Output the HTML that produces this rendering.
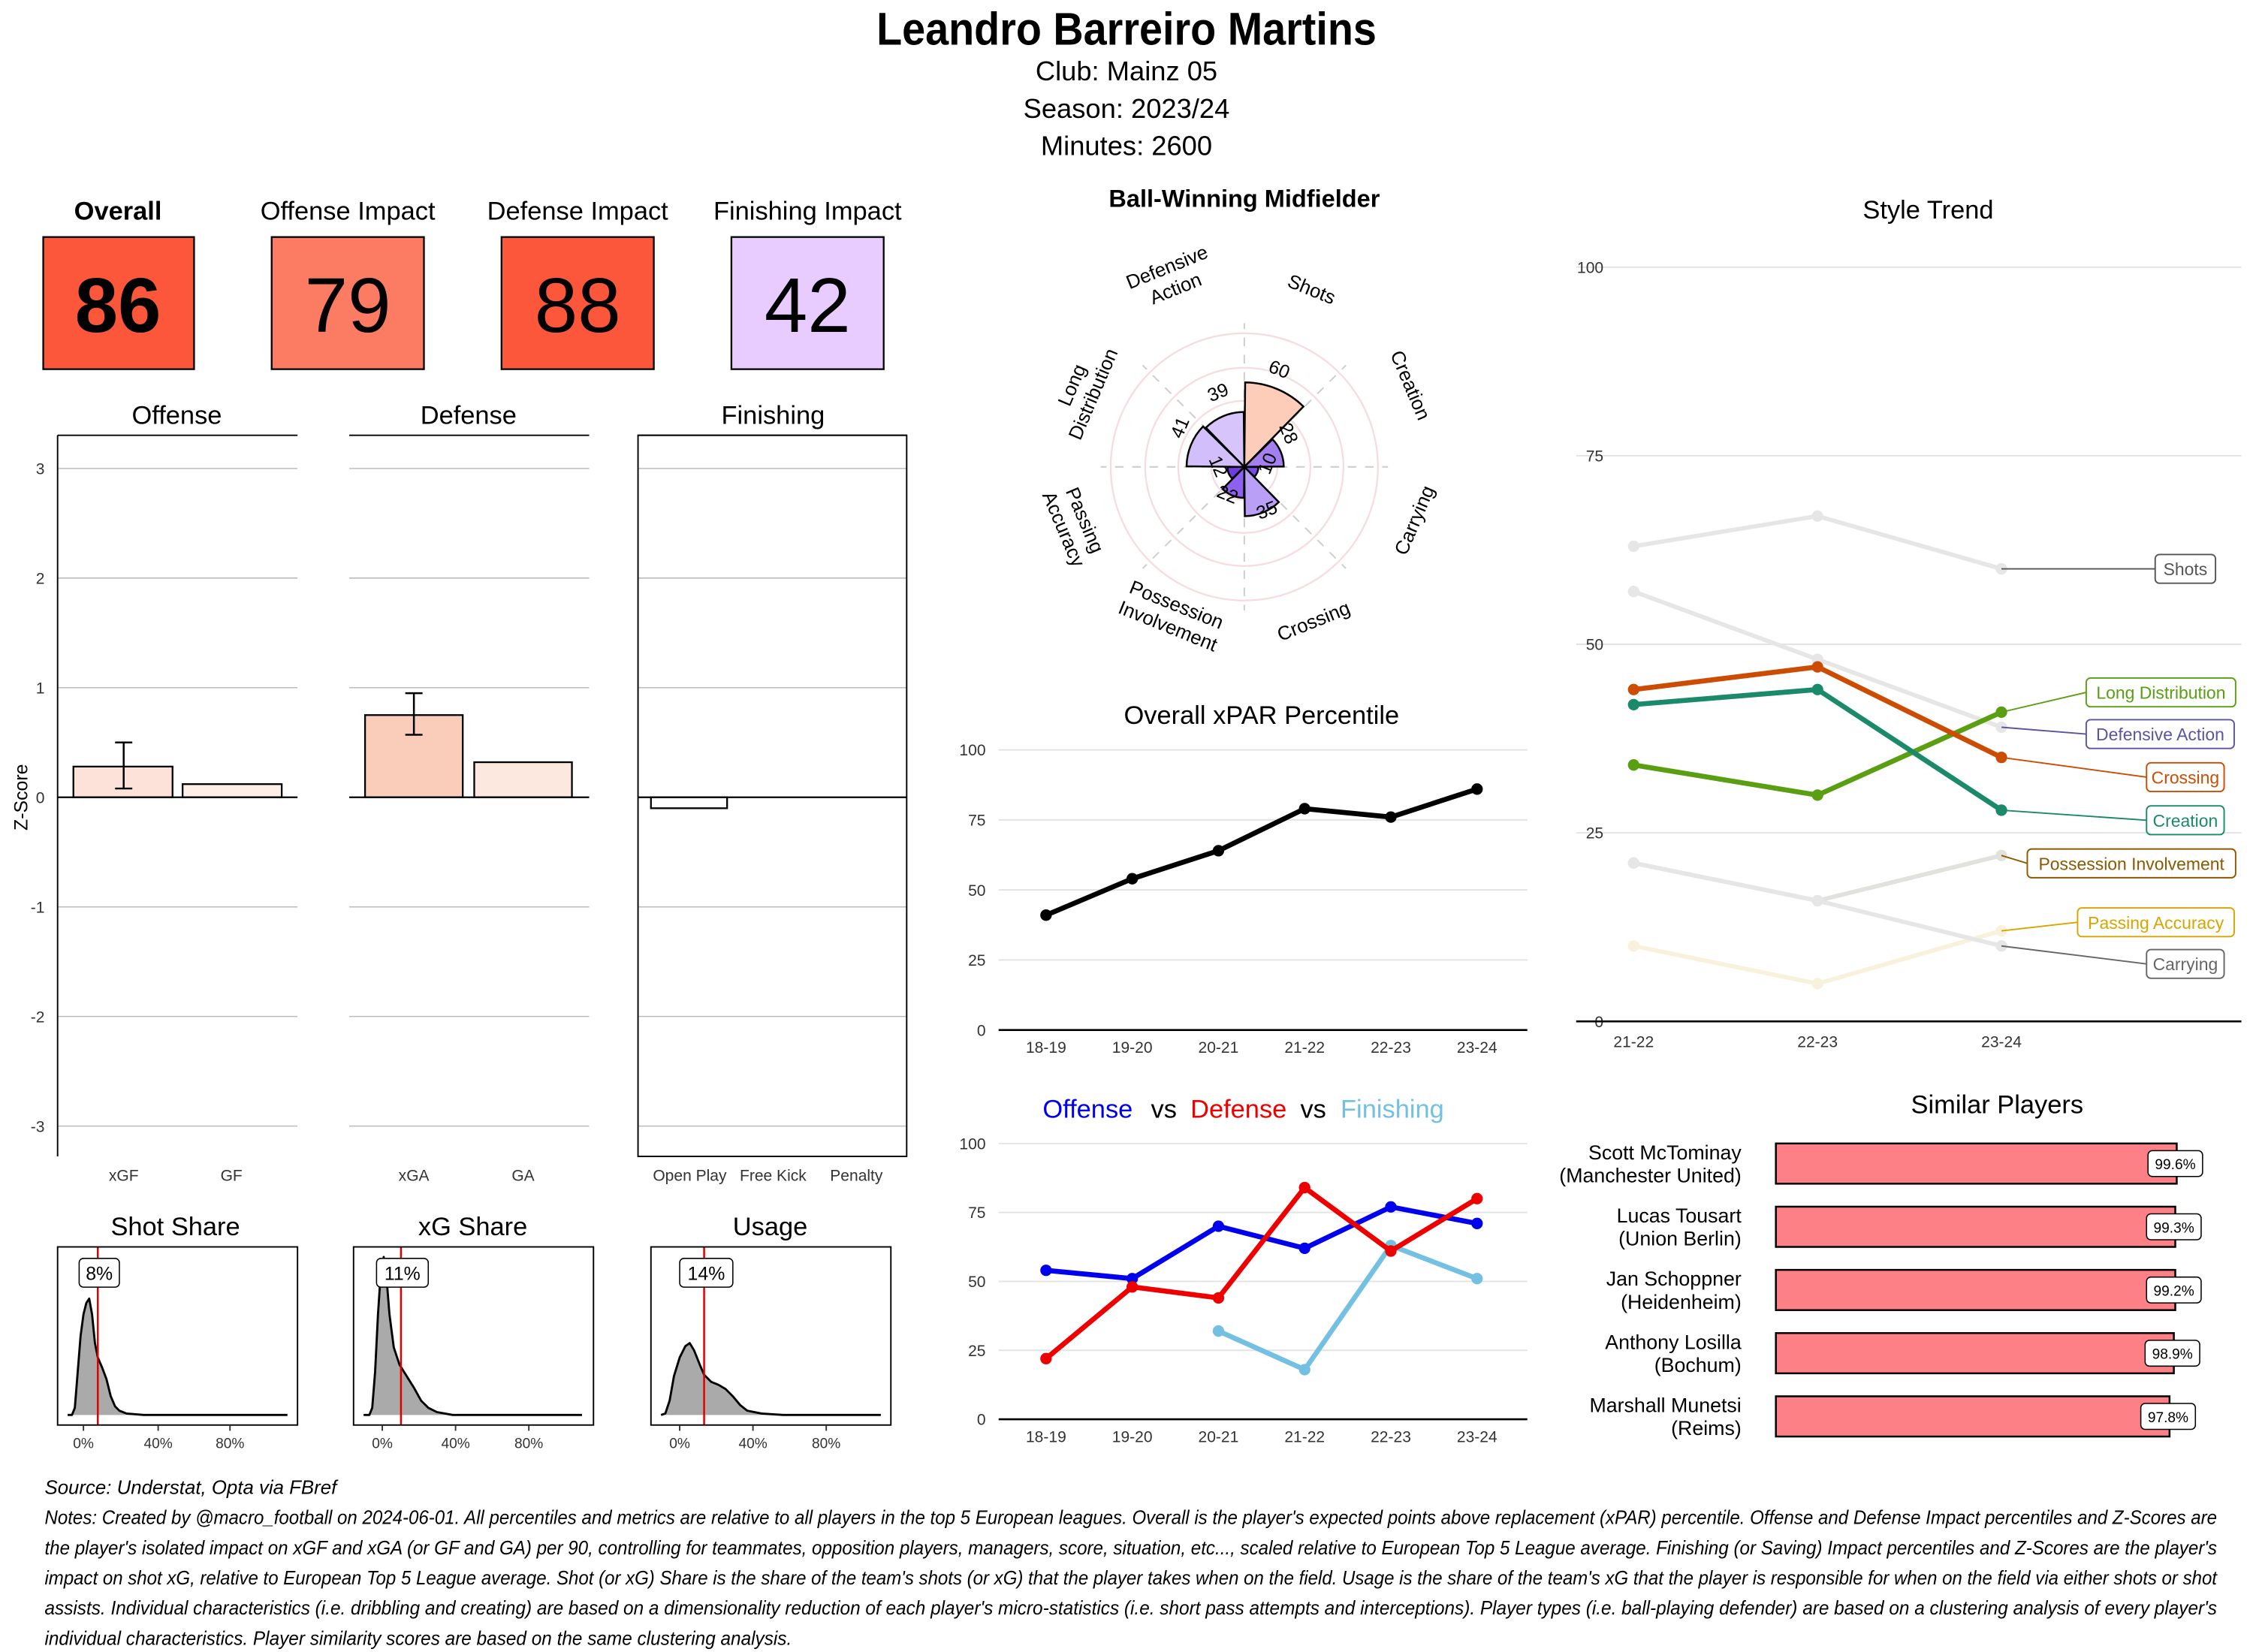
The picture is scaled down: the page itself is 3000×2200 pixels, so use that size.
<!DOCTYPE html>
<html><head><meta charset="utf-8">
<style>
html,body{margin:0;padding:0;background:#fff;}
svg{display:block;font-family:"Liberation Sans Narrow","Liberation Sans",sans-serif;}
</style></head>
<body>
<svg id="s" width="3000" height="2200" viewBox="0 0 1568 1150" xmlns="http://www.w3.org/2000/svg">
<rect width="1568" height="1150" fill="#fff"/>
<text x="784" y="31" font-size="32" font-weight="bold" text-anchor="middle" textLength="348" lengthAdjust="spacingAndGlyphs">Leandro Barreiro Martins</text>
<text x="784" y="56" font-size="19" text-anchor="middle">Club:  Mainz 05</text>
<text x="784" y="82" font-size="19" text-anchor="middle">Season:  2023/24</text>
<text x="784" y="108" font-size="19" text-anchor="middle">Minutes:  2600</text>

<g font-size="18" text-anchor="middle">
<text x="82" y="153" font-weight="bold">Overall</text>
<text x="242" y="153">Offense Impact</text>
<text x="402" y="153">Defense Impact</text>
<text x="562" y="153">Finishing Impact</text>
</g>
<g stroke="#000" stroke-width="1.2">
<rect x="30" y="165" width="105" height="92" fill="#FC563B"/>
<rect x="189" y="165" width="106" height="92" fill="#FB7B63"/>
<rect x="349" y="165" width="106" height="92" fill="#FC563B"/>
<rect x="509" y="165" width="106" height="92" fill="#E8CCFF"/>
</g>
<g font-size="54" text-anchor="middle">
<text x="82" y="231" font-weight="bold">86</text>
<text x="242" y="231">79</text>
<text x="402" y="231">88</text>
<text x="562" y="231">42</text>
</g>

<g id="zp"></g>
<g font-size="18" text-anchor="middle">
<text x="123" y="295">Offense</text>
<text x="326" y="295">Defense</text>
<text x="538" y="295">Finishing</text>
</g>
<text transform="translate(19,555) rotate(-90)" font-size="13" text-anchor="middle">Z-Score</text>

<g font-size="18" text-anchor="middle">
<text x="122" y="860">Shot Share</text>
<text x="329" y="860">xG Share</text>
<text x="536" y="860">Usage</text>
</g>
<g id="dens"></g>

<text x="866" y="144" font-size="17" font-weight="bold" text-anchor="middle">Ball-Winning Midfielder</text>
<g id="radar"></g>

<text x="878" y="504" font-size="18" text-anchor="middle">Overall xPAR Percentile</text>
<g id="xpar"></g>
<g font-size="18" text-anchor="middle">
<text x="757" y="778" fill="#0000EE">Offense</text>
<text x="810" y="778">vs</text>
<text x="862" y="778" fill="#EE0000">Defense</text>
<text x="914" y="778">vs</text>
<text x="969" y="778" fill="#74C0E3">Finishing</text>
</g>
<g id="odf"></g>

<text x="1342" y="152" font-size="18" text-anchor="middle">Style Trend</text>
<g id="st"></g>

<text x="1390" y="775" font-size="18" text-anchor="middle">Similar Players</text>
<g id="sim"></g>

<g font-size="13.5" font-style="italic">
<text x="31" y="1040">Source: Understat, Opta via FBref</text>
<text x="31" y="1061" textLength="1512" lengthAdjust="spacingAndGlyphs">Notes: Created by @macro_football on 2024-06-01. All percentiles and metrics are relative to all players in the top 5 European leagues. Overall is the player's expected points above replacement (xPAR) percentile. Offense and Defense Impact percentiles and Z-Scores are</text>
<text x="31" y="1082" textLength="1512" lengthAdjust="spacingAndGlyphs">the player's isolated impact on xGF and xGA (or GF and GA) per 90, controlling for teammates, opposition players, managers, score, situation, etc..., scaled relative to European Top 5 League average. Finishing (or Saving) Impact percentiles and Z-Scores are the player's</text>
<text x="31" y="1103" textLength="1512" lengthAdjust="spacingAndGlyphs">impact on shot xG, relative to European Top 5 League average. Shot (or xG) Share is the share of the team's shots (or xG) that the player takes when on the field. Usage is the share of the team's xG that the player is responsible for when on the field via either shots or shot</text>
<text x="31" y="1124" textLength="1512" lengthAdjust="spacingAndGlyphs">assists. Individual characteristics (i.e. dribbling and creating) are based on a dimensionality reduction of each player's micro-statistics (i.e. short pass attempts and interceptions). Player types (i.e. ball-playing defender) are based on a clustering analysis of every player's</text>
<text x="31" y="1145" textLength="520" lengthAdjust="spacingAndGlyphs">individual characteristics. Player similarity scores are based on the same clustering analysis.</text>
</g>
</svg>
<script>
var NS="http://www.w3.org/2000/svg";
function el(p,t,a,txt){var e=document.createElementNS(NS,t);for(var k in a)e.setAttribute(k,a[k]);if(txt!==undefined)e.textContent=txt;p.appendChild(e);return e;}
var zp=document.getElementById('zp');
function zy(v){return 555-v*76.3;}
[[40,207],[243,410],[444,631]].forEach(function(p){
 for(var v=-3;v<=3;v++){el(zp,'line',{x1:p[0],x2:p[1],y1:zy(v),y2:zy(v),stroke:'#bbb','stroke-width':0.8});}
 el(zp,'line',{x1:p[0],x2:p[1],y1:303,y2:303,stroke:'#000','stroke-width':1});
});
el(zp,'line',{x1:40,x2:40,y1:303,y2:805,stroke:'#000','stroke-width':1});
el(zp,'rect',{x:444,y:303,width:187,height:502,fill:'none',stroke:'#000','stroke-width':1});
[3,2,1,0,-1,-2,-3].forEach(function(v){el(zp,'text',{x:31,y:zy(v)+4,'font-size':11,'text-anchor':'end',fill:'#333'},String(v));});
var bars=[[51,120,0.28,'#FCE2D8'],[127,196,0.12,'#FEEEE8'],[254,322,0.75,'#F9CDB9'],[330,398,0.32,'#FDE8DF'],[453,506,-0.1,'#fff']];
bars.forEach(function(b){var y0=zy(0),y1=zy(b[2]);el(zp,'rect',{x:b[0],y:Math.min(y0,y1),width:b[1]-b[0],height:Math.abs(y1-y0),fill:b[3],stroke:'#000','stroke-width':1.2});});
[[40,207],[243,410],[444,631]].forEach(function(p){el(zp,'line',{x1:p[0],x2:p[1],y1:zy(0),y2:zy(0),stroke:'#000','stroke-width':1.2});});
function eb(x,a,b){el(zp,'path',{d:'M'+(x-6)+','+zy(b)+'h12M'+x+','+zy(b)+'V'+zy(a)+'M'+(x-6)+','+zy(a)+'h12',stroke:'#000','stroke-width':1.3,fill:'none'});}
eb(86,0.08,0.5);eb(288,0.57,0.95);
[['xGF',86],['GF',161],['xGA',288],['GA',364],['Open Play',480],['Free Kick',538],['Penalty',596]].forEach(function(l){el(zp,'text',{x:l[1],y:822,'font-size':11,'text-anchor':'middle',fill:'#333'},l[0]);});
var dg=document.getElementById('dens');
var dd=[
 {x0:40,t:[58,110,160],red:68,lab:'8%',lx:55,lw:28,pts:[[47,985],[50,985],[52,980],[54,955],[56,930],[58,915],[60,907],[62,904],[64,915],[66,935],[68,945],[71,952],[74,960],[77,972],[80,979],[83,982],[88,984],[100,985],[200,985]]},
 {x0:246,t:[266,317,368],red:279,lab:'11%',lx:262,lw:36,pts:[[253,985],[257,985],[259,980],[261,955],[263,915],[265,885],[267,875],[269,890],[271,915],[274,938],[278,950],[283,958],[288,966],[293,975],[298,980],[304,983],[315,985],[405,985]]},
 {x0:453,t:[473,524,575],red:490,lab:'14%',lx:473,lw:37,pts:[[460,985],[463,984],[466,975],[469,958],[473,945],[477,937],[480,935],[483,940],[487,950],[490,957],[495,962],[500,964],[505,967],[510,972],[515,978],[520,982],[530,984],[545,985],[613,985]]}
];
dd.forEach(function(d){
 var dstr='M'+d.pts.map(function(p){return p[0]+','+p[1];}).join('L');
 el(dg,'path',{d:dstr+'Z',fill:'#aaa',stroke:'none'});
 el(dg,'path',{d:dstr,fill:'none',stroke:'#000','stroke-width':1.5,'stroke-linejoin':'round'});
 el(dg,'line',{x1:d.red,x2:d.red,y1:868,y2:992,stroke:'#E00000','stroke-width':1.3});
 el(dg,'rect',{x:d.lx,y:876,width:d.lw,height:20,rx:3,fill:'#fff',stroke:'#000','stroke-width':0.8});
 el(dg,'text',{x:d.lx+d.lw/2,y:891,'font-size':13,'text-anchor':'middle'},d.lab);
 el(dg,'rect',{x:d.x0,y:868,width:167,height:124,fill:'none',stroke:'#000','stroke-width':1});
 ['0%','40%','80%'].forEach(function(s,i){el(dg,'line',{x1:d.t[i],x2:d.t[i],y1:992,y2:996,stroke:'#333'});el(dg,'text',{x:d.t[i],y:1008,'font-size':10,'text-anchor':'middle',fill:'#333'},s);});
});
var rg=document.getElementById('radar');var cx=866,cy=325;
[23,46,69,93].forEach(function(r){el(rg,'circle',{cx:cx,cy:cy,r:r,fill:'none',stroke:'#F6DCDF','stroke-width':1.2});});
for(var i=0;i<8;i++){var a=i*Math.PI/4;el(rg,'line',{x1:cx,y1:cy,x2:cx+100*Math.sin(a),y2:cy-100*Math.cos(a),stroke:'#ccc','stroke-width':1,'stroke-dasharray':'6,6'});}
var rv=[[60,'#FDCDB9'],[28,'#A47FF0'],[10,'#7A4BE8'],[35,'#B99FF6'],[22,'#8E60EE'],[12,'#6F3CE0'],[41,'#D2BEFA'],[39,'#D6C4FA']];
rv.forEach(function(v,i){var r=v[0]*0.98,a1=i*Math.PI/4+0.01,a2=(i+1)*Math.PI/4-0.01;
 var d='M'+cx+','+cy+'L'+(cx+r*Math.sin(a1))+','+(cy-r*Math.cos(a1))+'A'+r+','+r+' 0 0 1 '+(cx+r*Math.sin(a2))+','+(cy-r*Math.cos(a2))+'Z';
 el(rg,'path',{d:d,fill:v[1],stroke:'#000','stroke-width':1.3});});
var vl=[['60',890,258,22],['28',896,302,67],['10',883,323,-68],['35',882,356,-22],['22',854,345,22],['12',847,325,67],['41',822,298,-67],['39',848,274,-22]];
vl.forEach(function(v){el(rg,'text',{transform:'translate('+v[1]+','+v[2]+') rotate('+v[3]+')','font-size':13,'text-anchor':'middle','dominant-baseline':'middle','font-family':'Liberation Sans, sans-serif'},v[0]);});
var cl=[[['Defensive','Action'],815,193,-22],[['Shots'],913,201,22],[['Creation'],982,268,67],[['Carrying'],984,362,-67],[['Crossing'],914,432,-22],[['Possession','Involvement'],816,428,22],[['Passing','Accuracy'],748,365,67],[['Long','Distribution'],753,271,-67]];
cl.forEach(function(c){var g=el(rg,'g',{transform:'translate('+c[1]+','+c[2]+') rotate('+c[3]+')','font-size':13.5,'text-anchor':'middle','font-family':'Liberation Sans, sans-serif'});
 var n=c[0].length;c[0].forEach(function(s,j){el(g,'text',{x:0,y:(j-(n-1)/2)*16+5},s);});});
function lchart(gid,y100,y0,series){var g=document.getElementById(gid);var sc=(y0-y100)/100;var xs=[728,788,848,908,968,1028];
 [0,25,50,75,100].forEach(function(v){var y=y0-v*sc;if(v>0)el(g,'line',{x1:695,x2:1063,y1:y,y2:y,stroke:'#e3e3e3','stroke-width':1});el(g,'text',{x:686,y:y+4,'font-size':11,'text-anchor':'end',fill:'#333'},String(v));});
 el(g,'line',{x1:695,x2:1063,y1:y0,y2:y0,stroke:'#000','stroke-width':1.4});
 ['18-19','19-20','20-21','21-22','22-23','23-24'].forEach(function(s,i){el(g,'text',{x:xs[i],y:y0+16,'font-size':11,'text-anchor':'middle',fill:'#333'},s);});
 series.forEach(function(s){var pts=[];s.v.forEach(function(v,i){if(v!==null)pts.push([xs[i],y0-v*sc]);});
  el(g,'path',{d:'M'+pts.map(function(p){return p.join(',');}).join('L'),fill:'none',stroke:s.c,'stroke-width':3.5,'stroke-linejoin':'round'});
  pts.forEach(function(p){el(g,'circle',{cx:p[0],cy:p[1],r:4,fill:s.c});});});}
lchart('xpar',522,717,[{c:'#000',v:[41,54,64,79,76,86]}]);
lchart('odf',796,988,[{c:'#74C0E3',v:[null,null,32,18,63,51]},{c:'#0000EE',v:[54,51,70,62,77,71]},{c:'#EE0000',v:[22,48,44,84,61,80]}]);
var sg=document.getElementById('st');function sy(v){return 711-v*5.25;}var sx=[1137,1265,1393];
[25,50,75,100].forEach(function(v){el(sg,'line',{x1:1097,x2:1560,y1:sy(v),y2:sy(v),stroke:'#e3e3e3','stroke-width':1});});
[0,25,50,75,100].forEach(function(v){el(sg,'text',{x:1116,y:sy(v)+4,'font-size':11,'text-anchor':'end',fill:'#333'},String(v));});
el(sg,'line',{x1:1097,x2:1560,y1:711,y2:711,stroke:'#000','stroke-width':1.4});
['21-22','22-23','23-24'].forEach(function(s,i){el(sg,'text',{x:sx[i],y:729,'font-size':11,'text-anchor':'middle',fill:'#333'},s);});
var ss=[
 {v:[63,67,60],c:'#e6e6e6',lc:'#555',l:'Shots',lx:1500,ly:396,w:42},
 {v:[57,48,39],c:'#e6e6e6',lc:'#5A559E',l:'Defensive Action',lx:1452,ly:511,w:103},
 {v:[21,16,22],c:'#e2e2dc',lc:'#8B5A00',l:'Possession Involvement',lx:1411,ly:601,w:145},
 {v:[10,5,12],c:'#f8f2dc',lc:'#D9A400',l:'Passing Accuracy',lx:1446,ly:642,w:109},
 {v:[21,16,10],c:'#e6e6e6',lc:'#666',l:'Carrying',lx:1494,ly:671,w:54},
 {v:[34,30,41],c:'#5A9E12',lc:'#5A9E12',l:'Long Distribution',lx:1452,ly:482,w:104,b:1},
 {v:[42,44,28],c:'#1B8A6B',lc:'#1B8A6B',l:'Creation',lx:1494,ly:571,w:54,b:1},
 {v:[44,47,35],c:'#CC4C02',lc:'#CC4C02',l:'Crossing',lx:1494,ly:541,w:54,b:1}
];
ss.forEach(function(s){var pts=s.v.map(function(v,i){return [sx[i],sy(v)];});
 el(sg,'path',{d:'M'+pts.map(function(p){return p.join(',');}).join('L'),fill:'none',stroke:s.c,'stroke-width':s.b?3.5:3,'stroke-linejoin':'round'});
 pts.forEach(function(p){el(sg,'circle',{cx:p[0],cy:p[1],r:4,fill:s.c});});});
ss.forEach(function(s){var p=[1393,sy(s.v[2])];
 el(sg,'line',{x1:p[0],y1:p[1],x2:s.lx,y2:s.ly,stroke:s.lc,'stroke-width':1});
 el(sg,'rect',{x:s.lx,y:s.ly-10,width:s.w,height:20,rx:3,fill:'#fff',stroke:s.lc,'stroke-width':1});
 el(sg,'text',{x:s.lx+s.w/2,y:s.ly+4.5,'font-size':12,'text-anchor':'middle',fill:s.lc,'font-family':'Liberation Sans, sans-serif'},s.l);});
var mg=document.getElementById('sim');
var sp=[['Scott McTominay','(Manchester United)','99.6%',1515],['Lucas Tousart','(Union Berlin)','99.3%',1514],['Jan Schoppner','(Heidenheim)','99.2%',1514],['Anthony Losilla','(Bochum)','98.9%',1513],['Marshall Munetsi','(Reims)','97.8%',1510]];
sp.forEach(function(p,i){var yc=810+i*44;
 el(mg,'rect',{x:1236,y:yc-14,width:p[3]-1236,height:28,fill:'#FE8087',stroke:'#000','stroke-width':1.3});
 el(mg,'rect',{x:p[3]-20,y:yc-9,width:38,height:18,rx:3,fill:'#fff',stroke:'#000','stroke-width':0.8});
 el(mg,'text',{x:p[3]-1,y:yc+4,'font-size':10,'text-anchor':'middle'},p[2]);
 el(mg,'text',{x:1212,y:yc-3,'font-size':14,'text-anchor':'end'},p[0]);
 el(mg,'text',{x:1212,y:yc+13,'font-size':14,'text-anchor':'end'},p[1]);});
</script>
</body></html>
